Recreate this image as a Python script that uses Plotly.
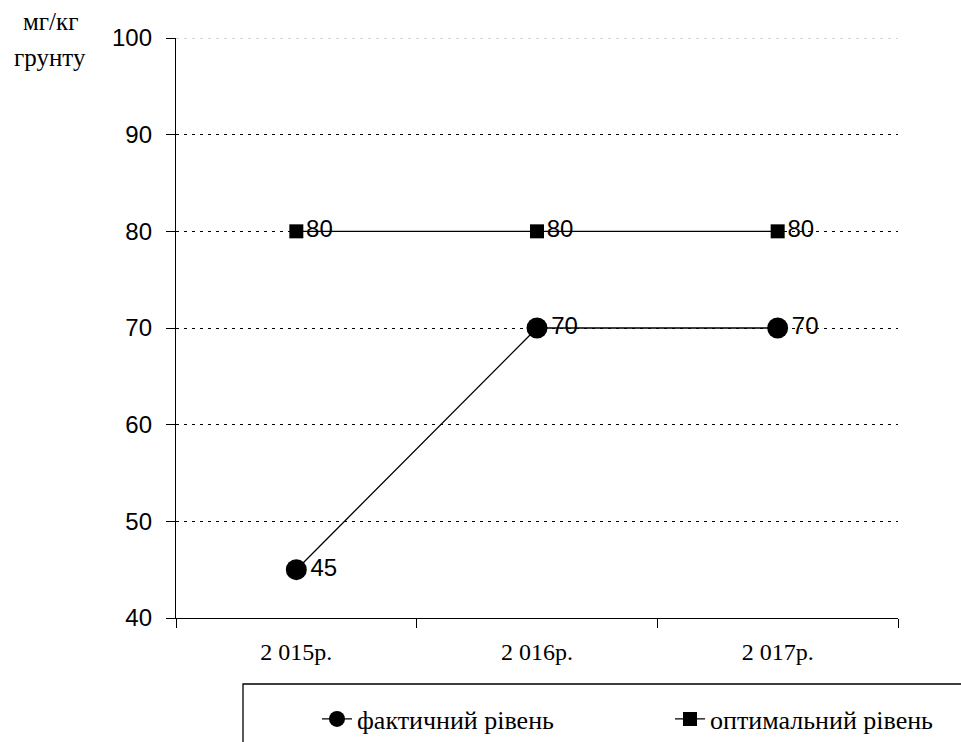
import plotly.graph_objects as go

years = ["2 015р.", "2 016р.", "2 017р."]
actual = [45, 70, 70]
optimal = [80, 80, 80]
y_ticks = [40, 50, 60, 70, 80, 90, 100]

W, H = 961, 742
L, R, T, B = 176, 63, 38, 124
pw, ph = W - L - R, H - T - B
SERIF = "Liberation Serif, Times New Roman, serif"
SANS = "Liberation Sans, Arial, sans-serif"


def px(x):
    return (x - L) / pw


def py(y):
    return (H - B - y) / ph


fig = go.Figure()
fig.add_trace(go.Scatter(
    x=years, y=actual, name="фактичний рівень", legend="legend",
    mode="lines+markers+text", text=[str(v) for v in actual],
    textposition="middle right",
    textfont=dict(family=SANS, size=24, color="black"),
    line=dict(color="black", width=1.3),
    marker=dict(symbol="circle", size=21, color="black"),
    cliponaxis=False,
))
fig.add_trace(go.Scatter(
    x=years, y=optimal, name="оптимальний рівень", legend="legend2",
    mode="lines+markers+text", text=[str(v) for v in optimal],
    textposition="middle right",
    textfont=dict(family=SANS, size=24, color="black"),
    line=dict(color="black", width=1.3),
    marker=dict(symbol="square", size=14, color="black"),
    cliponaxis=False,
))

legend_common = dict(
    orientation="h", xanchor="left", yanchor="middle",
    xref="container", yref="container", y=1 - 719 / H,
    font=dict(family=SERIF, size=26, color="black"),
    bgcolor="rgba(0,0,0,0)", borderwidth=0,
)

fig.update_layout(
    width=W, height=H,
    margin=dict(l=L, r=R, t=T, b=B, autoexpand=False),
    font=dict(family=SERIF, color="black"),
    plot_bgcolor="white", paper_bgcolor="white",
    showlegend=True,
    legend=dict(x=(357 - 40) / W, **legend_common),
    legend2=dict(x=(710 - 40) / W, **legend_common),
    xaxis=dict(
        type="category", range=[-0.5, 2.5],
        showline=True, linecolor="black", linewidth=1.3,
        ticks="outside", tickson="boundaries", ticklen=9, tickcolor="black", tickwidth=1.3,
        showgrid=False, zeroline=False,
        tickfont=dict(family=SERIF, size=24, color="black"),
        ticklabelstandoff=12,
    ),
    yaxis=dict(
        range=[40, 100], tickvals=y_ticks,
        showline=True, linecolor="black", linewidth=1.3,
        ticks="outside", ticklen=9, tickcolor="black", tickwidth=1.3,
        showgrid=True, gridcolor="black", gridwidth=1.3, griddash="3px,5px",
        zeroline=False,
        tickfont=dict(family=SANS, size=24, color="black"),
        ticklabelstandoff=9,
    ),
    annotations=[
        dict(text="мг/кг", xref="paper", yref="paper", x=px(50), y=py(22),
             xanchor="center", yanchor="middle", showarrow=False,
             font=dict(family=SERIF, size=25, color="black")),
        dict(text="грунту", xref="paper", yref="paper", x=px(50), y=py(58),
             xanchor="center", yanchor="middle", showarrow=False,
             font=dict(family=SERIF, size=25, color="black")),
    ],
    shapes=[
        dict(type="line", xref="paper", yref="y", x0=0, x1=1,
             y0=max(y_ticks), y1=max(y_ticks),
             line=dict(color="#c8c8c8", width=1.3, dash="3px,5px")),
        dict(type="rect", xref="paper", yref="paper",
             x0=px(243), x1=px(975), y0=py(760), y1=py(684),
             line=dict(color="black", width=1.3), fillcolor="rgba(0,0,0,0)"),
    ],
)

fig.write_html("out.html", config={"displayModeBar": False},
               post_script="document.body.style.margin='0';")
